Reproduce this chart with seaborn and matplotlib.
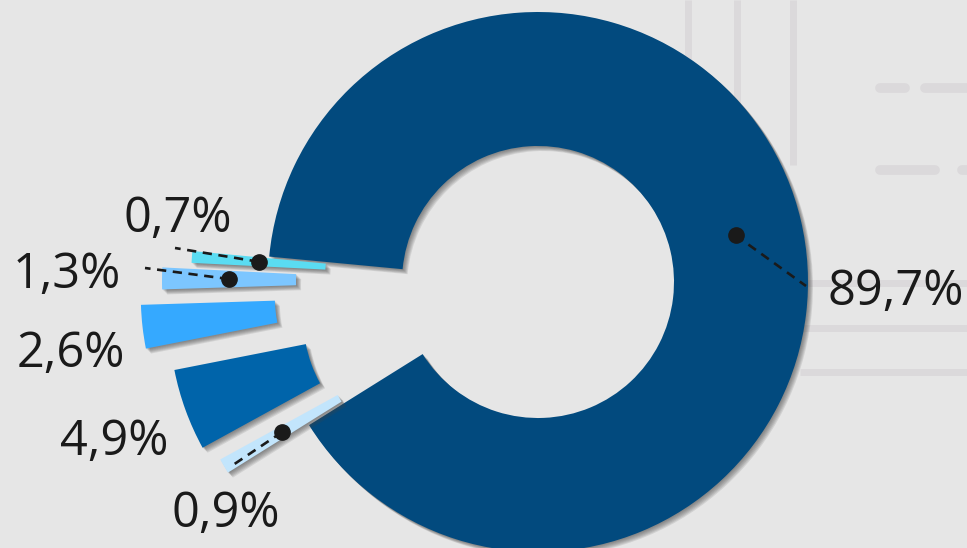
import matplotlib
matplotlib.use("Agg")
import matplotlib.pyplot as plt
import matplotlib.patheffects as pe
import numpy as np
import seaborn as sns

# shares, counter-clockwise from the lower-left edge of the big slice
shares = [89.7, 0.7, 1.3, 2.6, 4.9, 0.9]
share_labels = ["89,7%", "0,7%", "1,3%", "2,6%", "4,9%", "0,9%"]
slice_colors = ["#024a7e", "#5adcf2", "#7cc6ff", "#35a9ff", "#0064aa", "#c2e5fc"]
explode_px = [0, 77, 106, 128, 105, 94]

# label text (left, baseline) in pixels from top-left
label_pos = [(828, 305), (123, 232), (13, 288), (17, 367), (60, 455), (172, 527)]
# leader end points, None = no leader line
leader_end = [(806, 286), (175, 248), (145, 268), None, None, (230, 467)]

W, H = 967, 548
CX, CY, R, HOLE = 538, 282, 270, 136
BG = "#e6e6e6"
INK = "#1a1a1a"

sns.set_theme(style="white")
plt.rcParams["font.family"] = ["Open Sans", "DejaVu Sans"]

fig = plt.figure(figsize=(W / 100, H / 100), dpi=100, facecolor=BG)
ax = fig.add_axes([0, 0, 1, 1])
ax.set_facecolor(BG)

# faint table lines in the background
faint = "#dbd9db"
for x in (688, 737, 793):
    ax.plot([x, x], [H, H - 165], color=faint, lw=5, solid_capstyle="butt", zorder=0)
for y in (283, 328, 372):
    ax.plot([800, W], [H - y, H - y], color=faint, lw=5, solid_capstyle="butt", zorder=0)
for x0, x1, y in ((880, 905, 88), (925, W, 88), (880, 935, 170), (962, W, 170)):
    ax.plot([x0, x1], [H - y, H - y], color=faint, lw=7, solid_capstyle="round", zorder=0)

wedges, _ = ax.pie(
    shares,
    colors=slice_colors,
    startangle=212,
    explode=explode_px,
    radius=R,
    center=(CX, H - CY),
    wedgeprops=dict(width=R - HOLE, linewidth=0),
)
# soft drop shadow, built from a few stacked offsets
shadow = [pe.SimplePatchShadow(offset=(d, -d), shadow_rgbFace="#444444", alpha=0.13)
          for d in (0.6, 1.2, 1.8, 2.4, 3.0, 3.6)]
shadow.append(pe.Normal())
for w in wedges:
    w.set_path_effects(shadow)

for w, lab, pos, end in zip(wedges, share_labels, label_pos, leader_end):
    if end is not None:
        mid = np.deg2rad((w.theta1 + w.theta2) / 2)
        r = (R + HOLE) / 2
        dx = w.center[0] + r * np.cos(mid)
        dy = w.center[1] + r * np.sin(mid)
        ax.plot([dx, end[0]], [dy, H - end[1]], ls=(0, (3.5, 2.5)), color=INK, lw=1.9, zorder=5)
        ax.plot(dx, dy, "o", ms=11, color=INK, zorder=6)
    ax.text(pos[0], H - pos[1], lab, fontsize=35, color=INK, ha="left", va="baseline")

ax.set_xlim(0, W)
ax.set_ylim(0, H)
ax.set_aspect("equal")
ax.axis("off")
fig.savefig("out.png", dpi=100, facecolor=fig.get_facecolor())
